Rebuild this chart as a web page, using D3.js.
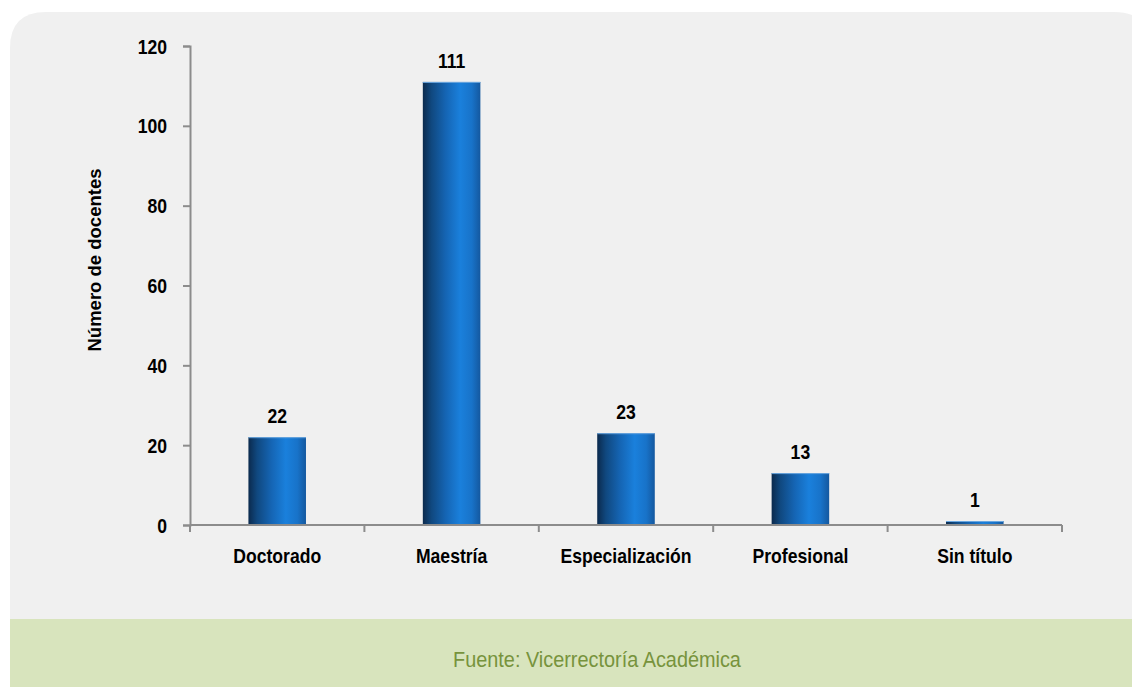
<!DOCTYPE html>
<html>
<head>
<meta charset="utf-8">
<script src="https://cdn.jsdelivr.net/npm/d3@7"></script>
<style>
  html, body { margin: 0; padding: 0; background: #ffffff; }
  svg { display: block; }
  text { font-family: "Liberation Sans Narrow", "Arial Narrow", "Liberation Sans", Arial, sans-serif; }
</style>
</head>
<body>
<svg id="chart" width="1132" height="687"></svg>
<script>
const categories = ["Doctorado", "Maestría", "Especialización", "Profesional", "Sin título"];
const values = [22, 111, 23, 13, 1];
const yTicks = [0, 20, 40, 60, 80, 100, 120];
const yTitle = "Número de docentes";
const sourceText = "Fuente: Vicerrectoría Académica";

(function () {
const svg = d3.select("#chart");
const W = 1132, H = 687;
const SX = 0.88; // horizontal condensing to mimic a narrow font

// background panel with rounded top corners
const px = 10, py = 12, pw = 1140, ph = 607, r = 36;
svg.append("path")
  .attr("d", `M${px},${py + ph} L${px},${py + r} Q${px},${py} ${px + r},${py} L${px + pw - r},${py} Q${px + pw},${py} ${px + pw},${py + r} L${px + pw},${py + ph} Z`)
  .attr("fill", "#f0f0f0");

// footer
svg.append("rect").attr("x", px).attr("y", 619).attr("width", W - px).attr("height", H - 619).attr("fill", "#d8e4bd");
svg.append("text")
  .attr("transform", `translate(597,667) scale(${SX},1)`)
  .attr("text-anchor", "middle")
  .attr("fill", "#77933c")
  .attr("font-size", 22.6)
  .text(sourceText);

// gradient
const defs = svg.append("defs");
const grad = defs.append("linearGradient").attr("id", "barGrad").attr("x1", "0").attr("x2", "1").attr("y1", "0").attr("y2", "0");
[[0, "#0b2a4d"], [0.15, "#10487f"], [0.4, "#1565b4"], [0.65, "#1a80dc"], [0.85, "#1873c9"], [1, "#14589f"]]
  .forEach(([o, c]) => grad.append("stop").attr("offset", o).attr("stop-color", c));

const mLeft = 190, mRight = 1062, mTop = 46, mBottom = 525;
const x = d3.scaleBand().domain(categories).range([mLeft, mRight]).paddingInner(0.67).paddingOuter(0.335);
const y = d3.scaleLinear().domain([0, 120]).range([mBottom, mTop]);

// bars
svg.append("g").selectAll("rect").data(values).join("rect")
  .attr("x", (d, i) => x(categories[i]))
  .attr("y", d => y(d))
  .attr("width", x.bandwidth())
  .attr("height", d => y(0) - y(d))
  .attr("fill", "url(#barGrad)");
// top highlight
svg.append("g").selectAll("line").data(values).join("line")
  .attr("x1", (d, i) => x(categories[i]))
  .attr("x2", (d, i) => x(categories[i]) + x.bandwidth())
  .attr("y1", d => y(d) + 0.5).attr("y2", d => y(d) + 0.5)
  .attr("stroke", "#6aa6de").attr("stroke-width", 1);

// value labels
svg.append("g").selectAll("text").data(values).join("text")
  .attr("transform", (d, i) => `translate(${x(categories[i]) + x.bandwidth() / 2},${y(d) - 14}) scale(${SX},1)`)
  .attr("text-anchor", "middle")
  .attr("font-weight", "bold")
  .attr("font-size", 20)
  .attr("fill", "#000")
  .text(d => d);

// y axis
const yAxis = svg.append("g").attr("transform", `translate(${mLeft},0)`)
  .call(d3.axisLeft(y).tickValues(yTicks).tickSize(7).tickPadding(15));
yAxis.select(".domain").attr("stroke", "#8c8c8c").attr("stroke-width", 2);
yAxis.selectAll(".tick line").attr("stroke", "#8c8c8c").attr("stroke-width", 2);
yAxis.selectAll(".tick text")
  .attr("font-size", 20).attr("font-weight", "bold").attr("fill", "#000")
  .attr("x", -23 / SX).attr("dy", "0.35em")
  .attr("transform", `scale(${SX},1)`)
  .style("font-family", '"Liberation Sans Narrow", "Arial Narrow", "Liberation Sans", Arial, sans-serif');

// x axis with boundary ticks
const xAxisG = svg.append("g");
xAxisG.append("line").attr("x1", mLeft).attr("x2", mRight).attr("y1", mBottom).attr("y2", mBottom)
  .attr("stroke", "#8c8c8c").attr("stroke-width", 2);
const bounds = d3.range(categories.length + 1).map(i => mLeft + i * (mRight - mLeft) / categories.length);
xAxisG.selectAll("line.tk").data(bounds).join("line").attr("class", "tk")
  .attr("x1", d => d).attr("x2", d => d).attr("y1", mBottom).attr("y2", mBottom + 7)
  .attr("stroke", "#8c8c8c").attr("stroke-width", 2);
xAxisG.selectAll("text").data(categories).join("text")
  .attr("transform", d => `translate(${x(d) + x.bandwidth() / 2},563) scale(${SX},1)`)
  .attr("text-anchor", "middle")
  .attr("font-weight", "bold")
  .attr("font-size", 20)
  .attr("fill", "#000")
  .text(d => d);

// y title
svg.append("text")
  .attr("transform", `translate(101,260) rotate(-90)`)
  .attr("text-anchor", "middle")
  .attr("font-weight", "bold")
  .attr("font-size", 18.5)
  .attr("fill", "#000")
  .text(yTitle);
})();
</script>
</body>
</html>
